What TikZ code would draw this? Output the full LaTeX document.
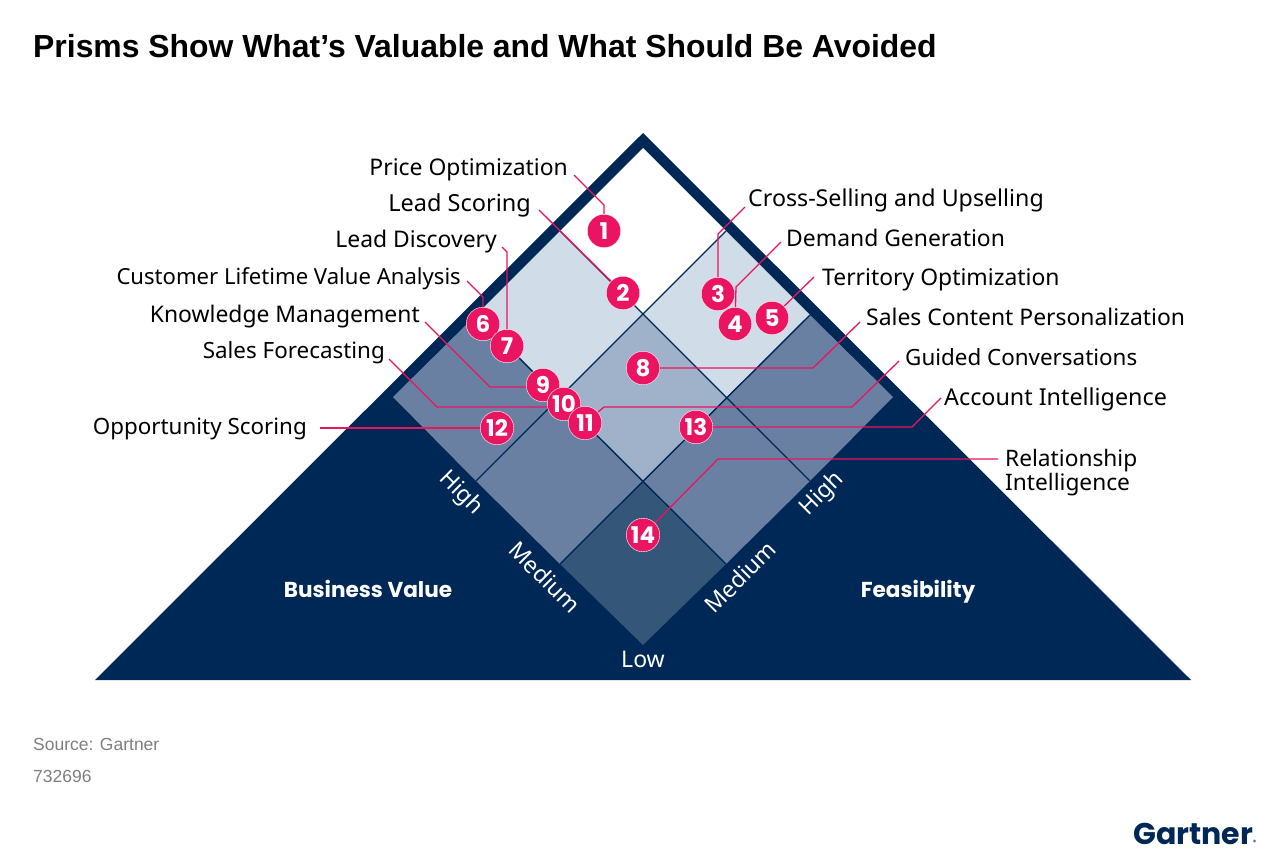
\documentclass[tikz,border=0pt]{standalone}
\usepackage{fontspec}
\setmainfont{Liberation Sans}
\newfontfamily\lblfont{Noto Sans}
\newfontfamily\popfont{Poppins}
\definecolor{navy}{HTML}{002856}
\definecolor{cellA}{HTML}{D0DDE9}
\definecolor{cellB}{HTML}{A0B2CA}
\definecolor{cellC}{HTML}{6A80A2}
\definecolor{cellD}{HTML}{345678}
\definecolor{pinkc}{HTML}{EB1460}
\definecolor{srcgray}{HTML}{7F7F7F}
\pgfdeclarelayer{shapes}
\pgfdeclarelayer{conn}
\pgfsetlayers{shapes,conn,main}
\tikzset{
  numdot/.style={circle,fill=pinkc,draw=white,line width=0.4pt,minimum size=33.5pt,inner sep=0pt,text=white,font=\popfont\bfseries\fontsize{23}{24}\selectfont},
  lblsize/.style={font=\lblfont\fontsize{#1}{24}\selectfont},
  lbl/.style={inner sep=0pt,text=black,lblsize=22.9},
  lbll/.style={lbl,anchor=base east},
  lblr/.style={lbl,anchor=base west},
  conline/.style={draw=pinkc,line width=1.3pt,line join=round},
  grid/.style={draw=navy,line width=1.4pt},
  axislbl/.style={inner sep=0pt,text=white,font=\lblfont\fontsize{23}{24}\selectfont},
  sidelbl/.style={inner sep=0pt,anchor=base,text=white,font=\popfont\bfseries\fontsize{21.6}{24}\selectfont},
  srclbl/.style={inner sep=0pt,anchor=base west,text=srcgray,font=\fontsize{17.5}{18}\selectfont},
  titlelbl/.style={inner sep=0pt,anchor=base west,text=black,font=\bfseries\fontsize{31.9}{34}\selectfont}
}
\begin{document}
\begin{tikzpicture}[x=1pt,y=-1pt]
\useasboundingbox (0,0) rectangle (1280,859);
\begin{pgfonlayer}{shapes}
\fill[white] (0,0) rectangle (1280,859);
\fill[navy] (643,133) -- (1191,680) -- (95,680) -- cycle;
\fill[white] (643,148) -- (726,231) -- (643,314) -- (560,231) -- cycle;
\fill[cellA] (560,231) -- (643,314) -- (560,398) -- (476,315) -- cycle;
\fill[cellA] (726,231) -- (810,315) -- (726,398) -- (643,314) -- cycle;
\fill[cellB] (643,314) -- (726,398) -- (643,481) -- (560,398) -- cycle;
\fill[cellC] (476,315) -- (560,398) -- (476,481) -- (393,397) -- cycle;
\fill[cellC] (810,315) -- (893,397) -- (810,481) -- (726,398) -- cycle;
\fill[cellC] (560,398) -- (643,481) -- (560,564) -- (476,481) -- cycle;
\fill[cellC] (726,398) -- (810,481) -- (726,564) -- (643,481) -- cycle;
\fill[cellD] (643,481) -- (726,564) -- (643,645) -- (560,564) -- cycle;
\draw[grid] (560,231) -- (810,481);
\draw[grid] (476,315) -- (726,564);
\draw[grid] (726,231) -- (476,481);
\draw[grid] (810,315) -- (560,564);
\end{pgfonlayer}

\node[titlelbl] (title) at (33,58) {Prisms Show What’s Valuable and What Should Be Avoided};

\node[lbll] (t1) at (568,175) {Price Optimization};
\node[lbll,lblsize=23.5] (t2) at (531,211) {Lead Scoring};
\node[lbll] (t7) at (497,247) {Lead Discovery};
\node[lbll,lblsize=22.1] (t6) at (461,284) {Customer Lifetime Value Analysis};
\node[lbll] (t9) at (420,322) {Knowledge Management};
\node[lbll,lblsize=22.4] (t10) at (385,358) {Sales Forecasting};
\node[lbll,lblsize=22.4] (t12) at (307,434) {Opportunity Scoring};
\node[lblr,lblsize=23.2] (t3) at (748,206) {Cross-Selling and Upselling};
\node[lblr] (t4) at (786,246) {Demand Generation};
\node[lblr] (t5) at (822,285) {Territory Optimization};
\node[lblr] (t8) at (866,325) {Sales Content Personalization};
\node[lblr,lblsize=22.4] (t11) at (905,365) {Guided Conversations};
\node[lblr,lblsize=23.3] (t13) at (944,405) {Account Intelligence};
\node[lblr,lblsize=22.7] (t14a) at (1005,466) {Relationship};
\node[lblr,lblsize=22.7] (t14) at (1005,490) {Intelligence};

\node[axislbl,rotate=-45] (hl) at (461,493) {High};
\node[axislbl,rotate=-45] (ml) at (545,577) {Medium};
\node[axislbl,rotate=45] (hr) at (822,494) {High};
\node[axislbl,rotate=45] (mr) at (740,577) {Medium};
\node[axislbl,anchor=base] (low) at (643,667) {Low};
\node[sidelbl] (bv) at (368,597) {Business Value};
\node[sidelbl] (fe) at (918,597) {Feasibility};

\node[srclbl] (src) at (33,750) {Source: Gartner};
\node[srclbl] (num) at (33,782) {732696};
\node[inner sep=0pt,anchor=base west,text=navy,font=\popfont\bfseries\fontsize{30}{33}\selectfont] (logo) at (1133,844) {Gartner\raisebox{0pt}{\fontsize{6}{6}\selectfont ®}};

\node[numdot] (n1) at (604,231) {1};
\node[numdot] (n2) at (623,293) {2};
\node[numdot] (n3) at (718,294) {3};
\node[numdot] (n4) at (735,324) {4};
\node[numdot] (n5) at (772,318) {5};
\node[numdot] (n6) at (483,324) {6};
\node[numdot] (n7) at (507,346) {7};
\node[numdot] (n8) at (643,368) {8};
\node[numdot] (n9) at (543,385) {9};
\node[numdot] (n10) at (564,404) {10};
\node[numdot] (n11) at (585,423) {11};
\node[numdot] (n12) at (497,428) {12};
\node[numdot] (n13) at (696,427) {13};
\node[numdot] (n14) at (643,535) {14};

\coordinate (e1) at (574,175);
\coordinate (e2) at (539,210);
\coordinate (e7) at (502,247);
\coordinate (e6) at (467,281);
\coordinate (e9) at (425,322);
\coordinate (e10) at (389,359);
\coordinate (e12) at (320,428);
\coordinate (e3) at (745,207);
\coordinate (e4) at (781,242);
\coordinate (e5) at (814,277);
\coordinate (e8) at (860,322);
\coordinate (e11) at (899,361);
\coordinate (e13) at (941,398);
\coordinate (e14) at (998,459);
\coordinate (b9) at (490,387);
\coordinate (b10) at (437,407);

\begin{pgfonlayer}{conn}
\draw[conline] (e1) -- (604,205) -- (n1);
\draw[conline] (e2) -- (n2);
\draw[conline] (e7) -- (507,252) -- (n7);
\draw[conline] (e6) -- (483,297) -- (n6);
\draw[conline] (e9) -- (b9) -- (b9 -| n9);
\draw[conline] (e10) -- (b10) -- (b10 -| n10);
\draw[conline] (e12) -- (n12);
\draw[conline] (e3) -- (718,234) -- (n3);
\draw[conline] (e4) -- (736,287) -- (n4);
\draw[conline] (e5) -- (n5);
\draw[conline] (e8) -- (813,368) -- (n8);
\draw[conline] (e11) -- (852,407) -- (604,407) -- (n11);
\draw[conline] (e13) -- (912,427) -- (n13);
\draw[conline] (e14) -- (718,459) -- (n14);
\end{pgfonlayer}
\end{tikzpicture}
\end{document}
